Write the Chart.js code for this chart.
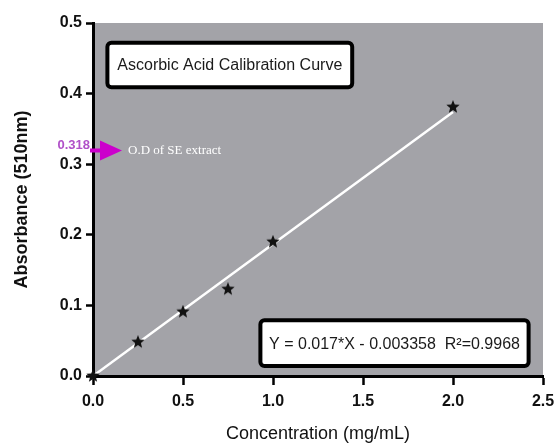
<!DOCTYPE html>
<html>
<head>
<meta charset="utf-8">
<script src="https://cdn.jsdelivr.net/npm/chart.js@4"></script>
<style>
  html, body { margin: 0; padding: 0; background: #fff; }
  #wrap { width: 554px; height: 443px; }
</style>
</head>
<body>
<div id="wrap"><canvas id="chart" width="554" height="443"></canvas></div>
<script>
// ── Data ─────────────────────────────────────────────────────────────────────

const concentration = [0, 0.25, 0.5, 0.75, 1.0, 2.0];
const absorbance = [0, 0.048, 0.091, 0.123, 0.19, 0.381];

const fitX = [0, 2.0];
const fitY = [0, 0.374];

const xTicks = [0, 0.5, 1.0, 1.5, 2.0, 2.5];
const yTicks = [0, 0.1, 0.2, 0.3, 0.4, 0.5];

const sampleOD = 0.318;
const titleText = 'Ascorbic Acid Calibration Curve';
const equationText = 'Y = 0.017*X - 0.003358  R²=0.9968';
const sampleText = 'O.D of SE extract';

// ── Star marker ──────────────────────────────────────────────────────────────

function makeStar(size, color) {
    const c = document.createElement('canvas');
    c.width = size;
    c.height = size;
    const ctx = c.getContext('2d');
    const cx = size / 2, cy = size / 2;
    const outer = size / 2, inner = size / 4.6;
    ctx.beginPath();
    for (let i = 0; i < 10; i++) {
        const r = i % 2 === 0 ? outer : inner;
        const a = -Math.PI / 2 + i * Math.PI / 5;
        const px = cx + r * Math.cos(a);
        const py = cy + r * Math.sin(a);
        if (i === 0) ctx.moveTo(px, py); else ctx.lineTo(px, py);
    }
    ctx.closePath();
    ctx.fillStyle = color;
    ctx.fill();
    return c;
}

const star = makeStar(14, '#111');

// ── Plugins ──────────────────────────────────────────────────────────────────

const plotBackground = {
    id: 'plotBackground',
    beforeDraw(chart) {
        const { ctx, chartArea: a } = chart;
        ctx.save();
        ctx.fillStyle = '#a3a3a8';
        ctx.fillRect(a.left, a.top, a.right - a.left, a.bottom - a.top);
        ctx.restore();
    },
};

function drawBox(ctx, x1, y1, x2, y2, text, font) {
    ctx.save();
    ctx.beginPath();
    ctx.roundRect(x1, y1, x2 - x1, y2 - y1, 4);
    ctx.fillStyle = '#fff';
    ctx.fill();
    ctx.lineWidth = 4;
    ctx.strokeStyle = '#000';
    ctx.stroke();
    ctx.fillStyle = '#1a1a1a';
    ctx.font = font;
    ctx.textAlign = 'center';
    ctx.textBaseline = 'middle';
    ctx.fillText(text, (x1 + x2) / 2, (y1 + y2) / 2 + 1, x2 - x1 - 16);
    ctx.restore();
}

const annotations = {
    id: 'annotations',
    afterDatasetsDraw(chart) {
        const { ctx, scales: { x, y } } = chart;

        drawBox(ctx, x.getPixelForValue(0.08), y.getPixelForValue(0.472),
            x.getPixelForValue(1.44), y.getPixelForValue(0.409),
            titleText, '16px "Liberation Sans", Arial, sans-serif');

        drawBox(ctx, x.getPixelForValue(0.93), y.getPixelForValue(0.079),
            x.getPixelForValue(2.42), y.getPixelForValue(0.014),
            equationText, '16px "Liberation Sans", Arial, sans-serif');

        // magenta arrow marking the sample O.D.
        const ay = y.getPixelForValue(sampleOD) - 1;
        const ax = x.left;
        ctx.save();
        ctx.fillStyle = '#cc00cc';
        ctx.fillRect(ax - 3, ay - 2, 12, 4);
        ctx.beginPath();
        ctx.moveTo(ax + 7, ay - 10);
        ctx.lineTo(ax + 29, ay);
        ctx.lineTo(ax + 7, ay + 10);
        ctx.closePath();
        ctx.fill();

        ctx.font = 'bold 13px "Liberation Sans", Arial, sans-serif';
        ctx.fillStyle = '#b050c8';
        ctx.textAlign = 'right';
        ctx.textBaseline = 'middle';
        ctx.fillText(sampleOD.toFixed(3), ax - 3, ay - 5);

        ctx.font = '13px "Liberation Serif", "Times New Roman", serif';
        ctx.fillStyle = '#fff';
        ctx.textAlign = 'left';
        ctx.fillText(sampleText, ax + 35, ay, 104);
        ctx.restore();
    },
};

// ── Chart ────────────────────────────────────────────────────────────────────

const tickFont = { family: '"Liberation Sans", Arial, sans-serif', size: 16, weight: 'bold' };

new Chart(document.getElementById('chart'), {
    data: {
        datasets: [
            {
                type: 'scatter',
                data: concentration.map((c, i) => ({ x: c, y: absorbance[i] })),
                pointStyle: star,
                pointRadius: 7,
                clip: false,
                order: 0,
            },
            {
                type: 'line',
                data: fitX.map((c, i) => ({ x: c, y: fitY[i] })),
                borderColor: '#ffffff',
                borderWidth: 2.5,
                pointRadius: 0,
                order: 1,
            },
        ],
    },
    options: {
        responsive: false,
        animation: false,
        layout: { padding: { top: 23, right: 11, left: 0, bottom: 0 } },
        plugins: {
            legend: { display: false },
            tooltip: { enabled: false },
        },
        scales: {
            x: {
                type: 'linear',
                min: 0,
                max: 2.5,
                afterBuildTicks: axis => { axis.ticks = xTicks.map(v => ({ value: v })); },
                afterFit: axis => {
                    axis.height = 67;
                    axis.paddingLeft = 0;
                    axis.paddingRight = 0;
                },
                border: { color: '#000', width: 3 },
                grid: { drawOnChartArea: false, tickLength: 9, tickColor: '#000', tickWidth: 2.5 },
                ticks: {
                    color: '#111',
                    font: tickFont,
                    padding: 7,
                    maxRotation: 0,
                    callback: v => v.toFixed(1),
                },
                title: {
                    display: true,
                    text: 'Concentration (mg/mL)',
                    color: '#111',
                    font: { family: '"Liberation Sans", Arial, sans-serif', size: 18 },
                    padding: { top: 0, bottom: -2 },
                },
            },
            y: {
                type: 'linear',
                min: 0,
                max: 0.5,
                afterBuildTicks: axis => { axis.ticks = yTicks.map(v => ({ value: v })); },
                afterFit: axis => {
                    axis.width = 93;
                    axis.paddingTop = 0;
                    axis.paddingBottom = 0;
                },
                border: { color: '#000', width: 3 },
                grid: { drawOnChartArea: false, tickLength: 7, tickColor: '#000', tickWidth: 2.5 },
                ticks: {
                    color: '#111',
                    font: tickFont,
                    padding: 4,
                    callback: v => v.toFixed(1),
                },
                title: {
                    display: true,
                    text: 'Absorbance (510nm)',
                    color: '#111',
                    font: { family: '"Liberation Sans", Arial, sans-serif', size: 18, weight: 'bold' },
                    padding: { top: 11, bottom: 0 },
                },
            },
        },
    },
    plugins: [plotBackground, annotations],
});
</script>
</body>
</html>
